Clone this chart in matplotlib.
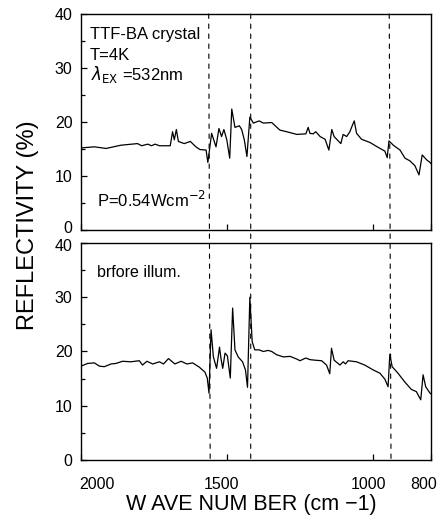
import numpy as np
import matplotlib
matplotlib.use("Agg")
import matplotlib.pyplot as plt
from matplotlib.patches import ConnectionPatch
from matplotlib.transforms import ScaledTranslation

plt.rcParams['font.family'] = ['Liberation Sans', 'DejaVu Sans']

# Spectrum under illumination (upper panel)
wn_top = [2000, 1954, 1914, 1863, 1806, 1792, 1771, 1758, 1746, 1731, 1694, 1686,
          1680, 1673, 1666, 1646, 1625, 1606, 1592, 1571, 1565, 1552, 1537, 1527,
          1518, 1510, 1500, 1490, 1483, 1472, 1457, 1449, 1440, 1431, 1421, 1409,
          1389, 1375, 1346, 1318, 1295, 1260, 1229, 1221, 1215, 1204, 1195, 1180,
          1163, 1150, 1140, 1132, 1109, 1101, 1089, 1078, 1070, 1063, 1055, 1038,
          1009, 981, 958, 950, 944, 929, 906, 889, 872, 855, 841, 830, 815, 803, 800]
r_top = [15.2, 15.4, 15.1, 15.7, 16.0, 15.6, 15.9, 15.6, 15.9, 15.6, 15.6, 18.2,
         16.7, 18.6, 16.4, 16.0, 16.4, 15.4, 14.9, 14.8, 12.5, 17.9, 15.4, 18.8,
         17.3, 18.6, 16.7, 13.3, 22.4, 19.0, 19.3, 18.6, 16.7, 13.6, 20.9, 19.8,
         20.2, 19.8, 19.9, 18.5, 18.2, 17.7, 17.8, 19.0, 17.9, 17.8, 18.2, 17.3,
         16.8, 14.8, 18.6, 17.3, 16.0, 17.7, 17.3, 18.2, 19.3, 20.2, 17.9, 16.8,
         16.2, 15.3, 14.6, 13.4, 16.5, 15.7, 14.8, 13.3, 12.8, 11.9, 10.2, 13.9,
         13.0, 12.5, 12.3]

# Spectrum before illumination (lower panel)
wn_bot = [2000, 1977, 1954, 1937, 1920, 1897, 1880, 1857, 1829, 1800, 1789, 1774,
          1754, 1731, 1717, 1700, 1678, 1657, 1637, 1617, 1594, 1575, 1567, 1561,
          1554, 1546, 1535, 1525, 1520, 1514, 1506, 1498, 1488, 1480, 1472, 1461,
          1446, 1436, 1429, 1421, 1413, 1404, 1389, 1375, 1358, 1346, 1329, 1306,
          1283, 1260, 1249, 1229, 1215, 1198, 1175, 1158, 1147, 1141, 1132, 1112,
          1101, 1093, 1084, 1055, 1027, 998, 975, 958, 947, 941, 933, 913, 890,
          867, 850, 835, 827, 818, 803, 800]
r_bot = [17.3, 17.8, 17.9, 17.3, 17.2, 17.7, 17.8, 18.2, 18.1, 18.3, 17.5, 18.2,
         17.7, 18.1, 17.7, 18.7, 17.7, 18.2, 17.7, 17.9, 17.1, 16.2, 15.1, 12.3,
         24.0, 19.0, 16.9, 20.8, 18.7, 16.9, 19.7, 19.2, 15.1, 28.0, 20.3, 19.0,
         18.1, 16.6, 13.4, 30.0, 21.8, 20.3, 20.3, 20.0, 20.2, 20.0, 19.4, 19.0,
         19.1, 18.6, 18.3, 18.8, 18.5, 18.4, 18.3, 17.5, 15.9, 20.6, 18.4, 17.5,
         18.1, 17.7, 18.3, 18.1, 17.5, 16.6, 16.0, 14.9, 13.5, 19.5, 17.2, 16.0,
         14.4, 13.0, 12.6, 11.1, 15.7, 13.5, 12.3, 12.2]

# dashed marker lines (top end, bottom end)
dash_top = [1562, 1418, 943]
dash_bot = [1557, 1418, 937]

xticks = [2000, 1500, 1000, 800]
yticks = [0, 10, 20, 30, 40]

fig = plt.figure(figsize=(4.43, 5.2), dpi=100)
ax1 = fig.add_axes([0.1828, 0.5577, 0.790, 0.4154])
ax2 = fig.add_axes([0.1828, 0.1154, 0.790, 0.4173])

for ax in (ax1, ax2):
    ax.set_xlim(2000, 800)
    ax.set_ylim(0, 40)
    ax.set_xticks(xticks)
    ax.set_yticks(yticks)
    ax.set_yticks([5, 15, 25, 35], minor=True)
    ax.tick_params(direction='in', length=4, width=0.9, labelsize=11.5, pad=6)
    ax.tick_params(axis='y', which='minor', direction='in', length=3, width=0.9)
    ax.tick_params(axis='x', pad=12)
    for s in ax.spines.values():
        s.set_linewidth(1.0)

ax1.plot(wn_top, r_top, color='black', lw=0.9)
ax2.plot(wn_bot, r_bot, color='black', lw=0.9)
ax1.tick_params(axis='x', labelbottom=False)

# shift the end labels like the original
labels = ax2.get_xticklabels()
labels[0].set_ha('left')
shifts = [-1, -4, -3, -5]
for lab, dx in zip(labels, shifts):
    lab.set_transform(lab.get_transform() + ScaledTranslation(dx / 72, 0, fig.dpi_scale_trans))

# keep top "0" and bottom "40" apart
lab0 = ax1.get_yticklabels()[0]
lab0.set_transform(lab0.get_transform() + ScaledTranslation(0, 2.5 / 72, fig.dpi_scale_trans))
lab40 = ax2.get_yticklabels()[-1]
lab40.set_transform(lab40.get_transform() + ScaledTranslation(0, -1.5 / 72, fig.dpi_scale_trans))

for xt, xb in zip(dash_top, dash_bot):
    con = ConnectionPatch(xyA=(xt, 40), coordsA=ax1.transData,
                          xyB=(xb, 0), coordsB=ax2.transData,
                          linestyle=(0, (4, 5)), lw=0.8, color='black')
    fig.add_artist(con)

ax1.text(0.026, 0.903, "TTF-BA crystal", transform=ax1.transAxes, fontsize=12, va='center')
ax1.text(0.026, 0.81, "T=4K", transform=ax1.transAxes, fontsize=12, va='center')
ax1.text(0.03, 0.718, r"$\lambda_{\rm EX}$ =532nm", transform=ax1.transAxes, fontsize=12, va='center')
ax1.text(0.046, 0.139, r"P=0.54Wcm$^{-2}$", transform=ax1.transAxes, fontsize=12, va='center')
ax2.text(0.046, 0.862, "brfore illum.", transform=ax2.transAxes, fontsize=11.5, va='center')

fig.text(0.063, 0.567, "REFLECTIVITY (%)", rotation=90, fontsize=17, ha='center', va='center')
fig.text(0.567, 0.030, "W AVE NUM BER (cm −1)", fontsize=15.5, ha='center', va='center')

fig.savefig("out.png", dpi=100)
